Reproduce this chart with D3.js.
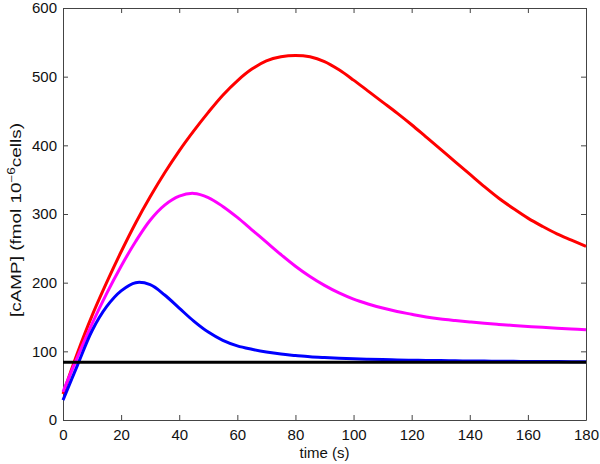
<!DOCTYPE html>
<html>
<head>
<meta charset="utf-8">
<script src="https://cdn.jsdelivr.net/npm/d3@7"></script>
<style>
  body { margin: 0; background: #fff; }
  svg text { font-family: "Liberation Sans", Arial, Helvetica, sans-serif; }
</style>
</head>
<body>
<div id="chart"></div>
<script>
// time points (s)
var times = [0, 5, 10, 15, 20, 25, 30, 35, 40, 45, 50, 55, 60, 65, 70, 75, 80, 85, 90,
  95, 100, 105, 110, 115, 120, 125, 130, 135, 140, 145, 150, 155, 160, 165, 170, 175, 180];

// cAMP values
var redSeries = [38, 98, 152, 200, 245, 287, 325, 360, 392, 421, 448, 473, 494, 511, 523, 529, 531, 529, 522,
  510, 495, 479, 463, 447, 430, 412, 394, 376, 358, 340, 323, 308, 294, 282, 271, 262, 253];
var magentaSeries = [41, 92, 140, 184, 224, 260, 291, 313, 326, 330, 324, 311, 295, 277, 259, 241, 224, 209, 196,
  185, 176, 169, 163, 158, 154, 150, 147, 144.8, 142.8, 140.9, 139.2, 137.6, 136.2, 134.9, 133.7, 132.5, 131.4];
var blueSeries = [29, 80, 130, 165, 188, 200, 197, 182, 163, 144, 128, 116, 108, 103, 99, 96, 94, 92.2, 91,
  90, 89.2, 88.5, 88, 87.5, 87.1, 86.8, 86.5, 86.2, 86, 85.8, 85.6, 85.4, 85.3, 85.2, 85.1, 85, 85];
var blackSeries = times.map(function() { return 84; });

var xTicks = [0, 20, 40, 60, 80, 100, 120, 140, 160, 180];
var yTicks = [0, 100, 200, 300, 400, 500, 600];

var width = 600, height = 464;
var margin = {top: 8, right: 14, bottom: 44, left: 63};

var svg = d3.select("#chart").append("svg")
    .attr("width", width)
    .attr("height", height);

var x = d3.scaleLinear().domain([0, 180]).range([margin.left, width - margin.right]);
var y = d3.scaleLinear().domain([0, 600]).range([height - margin.bottom, margin.top]);

var axisColor = "#444";

// axes, ticks pointing inward, mirrored on top and right
var gx = svg.append("g")
    .attr("transform", "translate(0," + y(0) + ")")
    .call(d3.axisBottom(x).tickValues(xTicks).tickSizeInner(-5).tickSizeOuter(0).tickPadding(9));
var gxTop = svg.append("g")
    .attr("transform", "translate(0," + y(600) + ")")
    .call(d3.axisTop(x).tickValues(xTicks).tickSizeInner(-5).tickSizeOuter(0).tickFormat(""));
var gy = svg.append("g")
    .attr("transform", "translate(" + x(0) + ",0)")
    .call(d3.axisLeft(y).tickValues(yTicks).tickSizeInner(-5).tickSizeOuter(0).tickPadding(6));
var gyRight = svg.append("g")
    .attr("transform", "translate(" + x(180) + ",0)")
    .call(d3.axisRight(y).tickValues(yTicks).tickSizeInner(-5).tickSizeOuter(0).tickFormat(""));

[gx, gxTop, gy, gyRight].forEach(function(g) {
  g.select(".domain").attr("stroke", axisColor);
  g.selectAll(".tick line").attr("stroke", axisColor);
  g.selectAll(".tick text").attr("fill", "#111").style("font-size", "15px");
});

// curves
var line = d3.line()
    .x(function(d, i) { return x(times[i]); })
    .y(function(d) { return y(d); })
    .curve(d3.curveCatmullRom.alpha(0.5));

var series = [
  {values: redSeries, color: "#ff0000"},
  {values: magentaSeries, color: "#ff00ff"},
  {values: blueSeries, color: "#0000ff"},
  {values: blackSeries, color: "#000000"}
];

svg.append("g")
  .selectAll("path")
  .data(series)
  .enter().append("path")
    .attr("d", function(d) { return line(d.values); })
    .attr("fill", "none")
    .attr("stroke", function(d) { return d.color; })
    .attr("stroke-width", 3);

// labels
svg.append("text")
    .attr("x", (x(0) + x(180)) / 2)
    .attr("y", 458)
    .attr("text-anchor", "middle")
    .style("font-size", "15px")
    .attr("fill", "#111")
    .text("time (s)");

var ylab = svg.append("text")
    .attr("transform", "translate(21,220) rotate(-90) scale(1.35,1)")
    .attr("text-anchor", "middle")
    .style("font-size", "14px")
    .attr("fill", "#111");
ylab.append("tspan").text("[cAMP] (fmol 10");
ylab.append("tspan").attr("dy", -6).style("font-size", "10px").text("\u22126");
ylab.append("tspan").attr("dy", 6).text("cells)");
</script>
</body>
</html>
